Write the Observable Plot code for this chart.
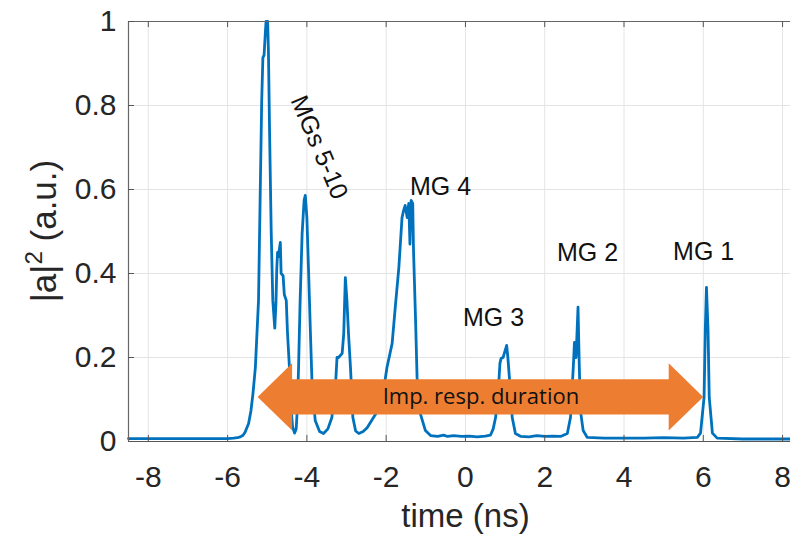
<!DOCTYPE html>
<html><head><meta charset="utf-8">
<script src="https://cdn.jsdelivr.net/npm/d3@7"></script>
<script src="https://cdn.jsdelivr.net/npm/@observablehq/plot@0.6"></script>
<style>html,body{margin:0;padding:0;background:#fff;} #chart svg{display:block}</style>
</head><body><div id="chart"></div>
<script>
// Impulse response |a|^2 versus time (ns)
const timeNs = [-8.5,-7.0,-6.0,-5.85,-5.75,-5.68,-5.61,-5.56,-5.47,-5.41,-5.36,-5.30,-5.22,-5.18,-5.14,-5.11,-5.08,-5.05,-5.03,-4.99,-4.97,-4.94,-4.90,-4.86,-4.81,-4.78,-4.76,-4.74,-4.72,-4.67,-4.65,-4.60,-4.57,-4.52,-4.49,-4.44,-4.40,-4.36,-4.31,-4.27,-4.24,-4.21,-4.17,-4.12,-4.07,-4.04,-4.00,-3.96,-3.91,-3.87,-3.79,-3.68,-3.58,-3.47,-3.37,-3.28,-3.24,-3.20,-3.11,-3.07,-3.03,-2.99,-2.95,-2.90,-2.84,-2.77,-2.69,-2.58,-2.48,-2.32,-2.20,-2.10,-1.98,-1.85,-1.77,-1.68,-1.60,-1.56,-1.52,-1.47,-1.43,-1.40,-1.37,-1.33,-1.31,-1.26,-1.22,-1.14,-1.01,-0.88,-0.70,-0.55,-0.45,-0.30,-0.10,0.10,0.30,0.50,0.63,0.70,0.76,0.84,0.87,0.90,0.95,0.98,1.04,1.07,1.12,1.18,1.26,1.40,1.60,1.80,2.00,2.20,2.40,2.57,2.65,2.72,2.75,2.79,2.84,2.87,2.90,2.97,3.07,3.50,4.00,4.50,5.00,5.50,5.85,5.93,6.02,6.05,6.08,6.12,6.15,6.23,6.35,7.00,8.20];
const intensity = [0.007,0.007,0.007,0.008,0.009,0.011,0.015,0.022,0.043,0.074,0.114,0.176,0.336,0.574,0.810,0.914,0.920,0.970,1.000,1.000,0.930,0.730,0.500,0.336,0.270,0.330,0.410,0.450,0.440,0.474,0.400,0.395,0.350,0.336,0.260,0.176,0.080,0.035,0.020,0.030,0.080,0.176,0.336,0.495,0.574,0.586,0.533,0.414,0.257,0.138,0.050,0.024,0.019,0.030,0.057,0.130,0.200,0.200,0.210,0.257,0.390,0.336,0.257,0.176,0.057,0.025,0.019,0.024,0.033,0.057,0.075,0.100,0.176,0.233,0.320,0.414,0.533,0.550,0.562,0.533,0.567,0.470,0.574,0.567,0.455,0.295,0.152,0.067,0.026,0.014,0.012,0.015,0.012,0.014,0.012,0.013,0.011,0.013,0.015,0.030,0.057,0.138,0.186,0.198,0.200,0.210,0.229,0.200,0.138,0.057,0.019,0.012,0.011,0.014,0.012,0.013,0.012,0.019,0.057,0.176,0.236,0.200,0.320,0.186,0.074,0.026,0.010,0.008,0.008,0.008,0.009,0.008,0.010,0.020,0.105,0.264,0.367,0.264,0.105,0.020,0.008,0.006,0.006];

const xTicks = [-8,-6,-4,-2,0,2,4,6,8];
const yTicks = [0,0.2,0.4,0.6,0.8,1];
const xDomain = [-8.5, 8.2];

// annotations
const groupLabels = ["MGs 5-10","MG 4","MG 3","MG 2","MG 1"];
const labelTime  = [-3.69,-0.63,0.71,3.08,6.01];
const labelLevel = [0.70,0.607,0.293,0.45,0.452];
const labelAngle = [67,0,0,0,0];
const arrowText = "Imp. resp. duration";
const arrowFrom = -5.23, arrowTo = 6.01, arrowLevel = 0.105;

const curve = timeNs.map((t, i) => ({t, v: intensity[i]}));
const labels = groupLabels.map((s, i) => ({s, t: labelTime[i], v: labelLevel[i], a: labelAngle[i]}));
const headLen = 0.87, headHalf = 0.08, shaftHalf = 0.042;
const arrow = [
  {x: arrowFrom, y1: arrowLevel, y2: arrowLevel},
  {x: arrowFrom + headLen, y1: arrowLevel - headHalf, y2: arrowLevel + headHalf},
  {x: arrowFrom + headLen, y1: arrowLevel - shaftHalf, y2: arrowLevel + shaftHalf},
  {x: arrowTo - headLen, y1: arrowLevel - shaftHalf, y2: arrowLevel + shaftHalf},
  {x: arrowTo - headLen, y1: arrowLevel - headHalf, y2: arrowLevel + headHalf},
  {x: arrowTo, y1: arrowLevel, y2: arrowLevel}
];
const font = "'Liberation Sans', Arial, Helvetica, sans-serif";
const tickX = 0.15, tickY = 0.0145;

const chart = Plot.plot({
  width: 790, height: 541,
  marginLeft: 128, marginRight: 0, marginTop: 21, marginBottom: 100,
  style: {fontFamily: font, fontSize: "30px", color: "#262626", background: "#fff"},
  x: {domain: xDomain, ticks: xTicks, tickSize: 0, tickPadding: 24, tickFormat: d => String(d), label: null},
  y: {domain: [0, 1], ticks: yTicks, tickSize: 0, tickPadding: 12, tickFormat: d => String(d), label: null},
  marks: [
    Plot.ruleX(xTicks, {x: d => d, stroke: "#e4e4e4", strokeWidth: 1}),
    Plot.ruleY(yTicks, {y: d => d, stroke: "#e4e4e4", strokeWidth: 1}),
    Plot.line(curve, {x: "t", y: "v", stroke: "#0072BD", strokeWidth: 2.8, curve: "linear"}),
    Plot.areaY(arrow, {x: "x", y1: "y1", y2: "y2", fill: "#ED7D31", curve: "linear"}),
    Plot.text([arrowText], {x: (arrowFrom + arrowTo) / 2, y: arrowLevel, text: d => d, fontSize: 22, fontFamily: "'Open Sans', Lato, sans-serif", fill: "#111"}),
    Plot.text(labels, {x: "t", y: "v", text: "s", rotate: "a", fontSize: 25, fill: "#111", textAnchor: "middle"}),
    Plot.ruleY([1], {stroke: "#666", strokeWidth: 1.2}),
    Plot.ruleY([0], {stroke: "#555", strokeWidth: 1.2}),
    Plot.ruleX([xDomain[0]], {stroke: "#666", strokeWidth: 1.2}),
    Plot.ruleX(xTicks, {x: d => d, y1: 0, y2: tickY, stroke: "#555"}),
    Plot.ruleX(xTicks, {x: d => d, y1: 1 - tickY, y2: 1, stroke: "#555"}),
    Plot.ruleY(yTicks, {y: d => d, x1: xDomain[0], x2: xDomain[0] + tickX, stroke: "#555"}),
    Plot.text(["time (ns)"], {frameAnchor: "bottom", text: d => d, dy: 85, dx: 6, lineAnchor: "bottom", fontSize: 33, fill: "#262626"})
  ]
});
document.getElementById("chart").appendChild(chart);

// y-axis label with superscript
const svg = d3.select(chart.tagName.toLowerCase() === "svg" ? chart : chart.querySelector("svg"));
const yl = svg.append("text")
  .attr("transform", "translate(56,231) rotate(-90)")
  .attr("text-anchor", "middle")
  .attr("font-family", font)
  .attr("font-size", 35)
  .attr("fill", "#262626");
yl.append("tspan").text("|a|");
yl.append("tspan").attr("font-size", 24).attr("dy", -14).text("2");
yl.append("tspan").attr("dy", 14).text(" (a.u.)");
</script>
</body></html>
